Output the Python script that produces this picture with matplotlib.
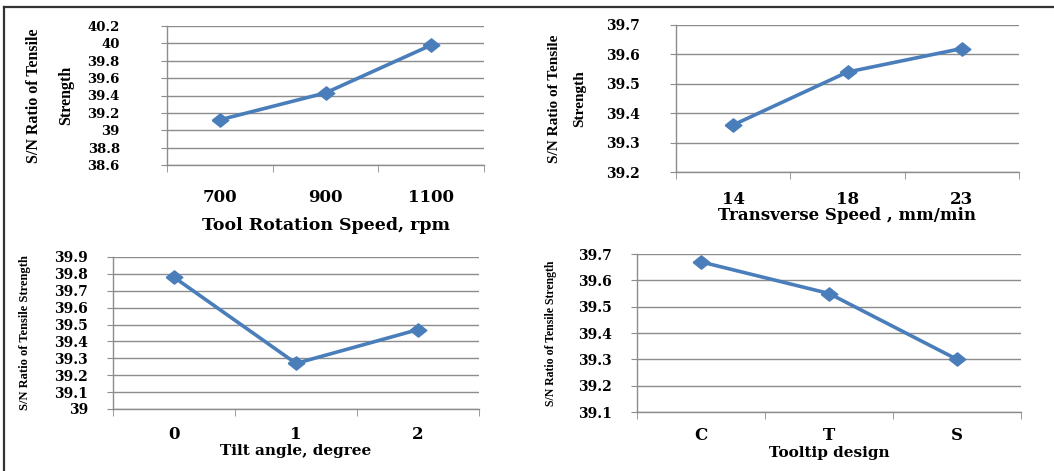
import matplotlib
matplotlib.use("Agg")
import matplotlib.pyplot as plt
from matplotlib.lines import Line2D
from matplotlib.ticker import FixedLocator, FuncFormatter, MultipleLocator
from matplotlib.transforms import blended_transform_factory

# main effect plots: S/N ratio of tensile strength for each factor level
speed_levels = ["700", "900", "1100"]
speed_sn = [39.12, 39.43, 39.98]

feed_levels = ["14", "18", "23"]
feed_sn = [39.36, 39.54, 39.62]

tilt_levels = ["0", "1", "2"]
tilt_sn = [39.78, 39.27, 39.47]

tool_levels = ["C", "T", "S"]
tool_sn = [39.67, 39.55, 39.30]

W, H = 1054, 471
BLUE = "#4A7EBB"
GRID = "#8C8C8C"

# stretched diamond like the Excel marker
diamond = [(-1, 0), (0, 0.8), (1, 0), (0, -0.8), (-1, 0)]


def rect(x0, y0, x1, y1):
    # pixel box (top-left origin) -> figure fraction
    return [x0 / W, 1 - y1 / H, (x1 - x0) / W, (y1 - y0) / H]


def panel(fig, box, levels, values, ylim, ystep, xlabel, ylabel,
          ytick_size, ypad, xpad, xlabel_size, xlabel_y, ylab_x, ylab_size,
          ylab_spacing=1.2):
    ax = fig.add_axes(rect(*box))
    x = range(len(levels))
    ax.plot(x, values, color=BLUE, linewidth=2.6, marker=diamond,
            markersize=12, markerfacecolor=BLUE, markeredgecolor=BLUE, zorder=3)
    ax.set_xlim(-0.5, len(levels) - 0.5)
    ax.set_ylim(*ylim)
    ax.yaxis.set_major_locator(MultipleLocator(ystep))
    ax.yaxis.set_major_formatter(FuncFormatter(lambda v, p: f"{round(v, 2):g}"))
    ax.xaxis.set_major_locator(FixedLocator(list(x)))
    ax.set_xticklabels(levels)
    ax.xaxis.set_minor_locator(FixedLocator([i - 0.5 for i in range(len(levels) + 1)]))
    ax.grid(axis="y", color=GRID, linewidth=1.0)
    ax.set_axisbelow(True)
    for s in ["top", "right"]:
        ax.spines[s].set_visible(False)
    for s in ["left", "bottom"]:
        ax.spines[s].set_color(GRID)
        ax.spines[s].set_linewidth(1.0)
    ax.tick_params(axis="y", length=4, color=GRID, pad=ypad, labelsize=ytick_size)
    ax.tick_params(axis="x", which="major", length=0, pad=xpad, labelsize=12)
    ax.tick_params(axis="x", which="minor", length=5, color=GRID, direction="out")
    for lab in ax.get_xticklabels() + ax.get_yticklabels():
        lab.set_fontfamily("DejaVu Serif")
        lab.set_fontweight("bold")

    ax.set_xlabel(xlabel, fontfamily="DejaVu Serif", fontweight="bold",
                  fontsize=xlabel_size)
    ax.xaxis.set_label_coords(0.5, 1 - xlabel_y / H,
                              transform=blended_transform_factory(ax.transAxes, fig.transFigure))
    ax.xaxis.label.set_va("center")
    ax.set_ylabel(ylabel, fontfamily="Liberation Serif", fontweight="bold",
                  fontsize=ylab_size, linespacing=ylab_spacing, va="center")
    ax.yaxis.set_label_coords(ylab_x / W, 0.5,
                              transform=blended_transform_factory(fig.transFigure, ax.transAxes))
    return ax


fig = plt.figure(figsize=(W / 100, H / 100), dpi=100, facecolor="white")

panel(fig, (167, 26, 484, 165), speed_levels, speed_sn, (38.6, 40.2), 0.2,
      "Tool Rotation Speed, rpm", "S/N Ratio of Tensile\nStrength",
      ytick_size=9.5, ypad=30, xpad=17, xlabel_size=12.5, xlabel_y=225,
      ylab_x=50, ylab_size=11.5, ylab_spacing=2.3)

panel(fig, (676, 25, 1019, 172), feed_levels, feed_sn, (39.2, 39.7), 0.1,
      "Transverse Speed , mm/min", "S/N Ratio of Tensile\nStrength",
      ytick_size=10, ypad=22, xpad=14, xlabel_size=12, xlabel_y=216,
      ylab_x=567, ylab_size=11, ylab_spacing=2.3)

panel(fig, (113, 257, 479, 409), tilt_levels, tilt_sn, (39.0, 39.9), 0.1,
      "Tilt angle, degree", "S/N Ratio of Tensile Strength",
      ytick_size=10, ypad=14, xpad=12, xlabel_size=11, xlabel_y=451,
      ylab_x=25, ylab_size=9)

panel(fig, (637, 254, 1021, 412), tool_levels, tool_sn, (39.1, 39.7), 0.1,
      "Tooltip design", "S/N Ratio of Tensile Strength",
      ytick_size=10, ypad=14, xpad=11, xlabel_size=11, xlabel_y=453,
      ylab_x=551, ylab_size=8.5)

# frame lines around the figure (left and top only, as in the source)
fig.add_artist(Line2D([4 / W, 4 / W], [0, 1 - 7 / H], color="#333333", linewidth=1.6))
fig.add_artist(Line2D([4 / W, 1], [1 - 7 / H, 1 - 7 / H], color="#333333", linewidth=1.6))

fig.savefig("out.png", dpi=100, facecolor="white")
